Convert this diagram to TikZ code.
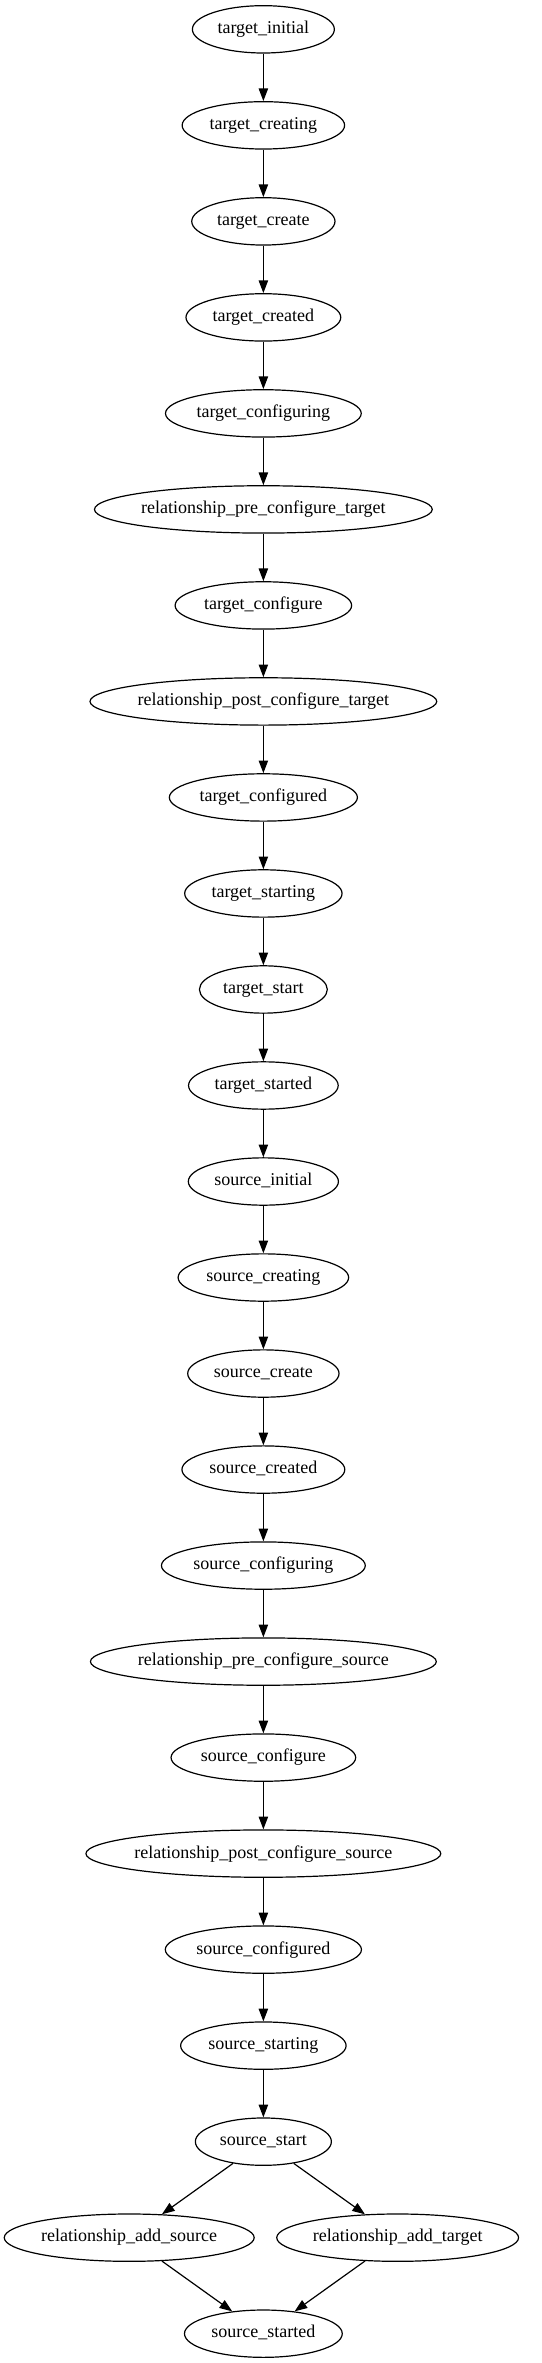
\documentclass[tikz,border=0pt]{standalone}
\usepackage{fontspec}
\setmainfont{Liberation Serif}
\usetikzlibrary{arrows.meta,shapes.geometric,calc}
\newcommand\gvfont{\fontsize{13.5pt}{16pt}\selectfont}
\tikzset{
  gvtext/.style={inner sep=0pt, font=\gvfont},
  gvell/.style={ellipse, draw, line width=0.9pt, inner sep=0pt, minimum height=35.5pt},
  gvedge/.style={line width=0.9pt, -{Triangle[length=9.5pt,width=7pt]}}
}
\newcommand\gvn[4]{%
  \node[gvtext] (t#1) at (#2,#3) {\vphantom{Agl}#4};%
  \path let \p1=($(t#1.east)-(t#1.west)$) in
    node[gvell, minimum width={1.28*\x1+18pt}] (#1) at (#2,#3) {};%
}
\begin{document}
\begin{tikzpicture}[x=1pt,y=1pt]
\useasboundingbox (0,0) rectangle (405.75,-1772);
\def\cx{197.5}
\gvn{n0}{\cx}{-22}{target\_initial}
\gvn{n1}{\cx}{-94}{target\_creating}
\gvn{n2}{\cx}{-166}{target\_create}
\gvn{n3}{\cx}{-238}{target\_created}
\gvn{n4}{\cx}{-310}{target\_configuring}
\gvn{n5}{\cx}{-382}{relationship\_pre\_configure\_target}
\gvn{n6}{\cx}{-454}{target\_configure}
\gvn{n7}{\cx}{-526}{relationship\_post\_configure\_target}
\gvn{n8}{\cx}{-598}{target\_configured}
\gvn{n9}{\cx}{-670}{target\_starting}
\gvn{n10}{\cx}{-742}{target\_start}
\gvn{n11}{\cx}{-814}{target\_started}
\gvn{n12}{\cx}{-886}{source\_initial}
\gvn{n13}{\cx}{-958}{source\_creating}
\gvn{n14}{\cx}{-1030}{source\_create}
\gvn{n15}{\cx}{-1102}{source\_created}
\gvn{n16}{\cx}{-1174}{source\_configuring}
\gvn{n17}{\cx}{-1246}{relationship\_pre\_configure\_source}
\gvn{n18}{\cx}{-1318}{source\_configure}
\gvn{n19}{\cx}{-1390}{relationship\_post\_configure\_source}
\gvn{n20}{\cx}{-1462}{source\_configured}
\gvn{n21}{\cx}{-1534}{source\_starting}
\gvn{n22}{\cx}{-1606}{source\_start}
\gvn{ras}{96.9}{-1678}{relationship\_add\_source}
\gvn{rat}{298.2}{-1678}{relationship\_add\_target}
\gvn{n24}{\cx}{-1750}{source\_started}
\foreach \a/\b in {n0/n1,n1/n2,n2/n3,n3/n4,n4/n5,n5/n6,n6/n7,n7/n8,n8/n9,n9/n10,n10/n11,n11/n12,n12/n13,n13/n14,n14/n15,n15/n16,n16/n17,n17/n18,n18/n19,n19/n20,n20/n21,n21/n22,n22/ras,n22/rat,ras/n24,rat/n24}
  \draw[gvedge] (\a) -- (\b);
\end{tikzpicture}
\end{document}
